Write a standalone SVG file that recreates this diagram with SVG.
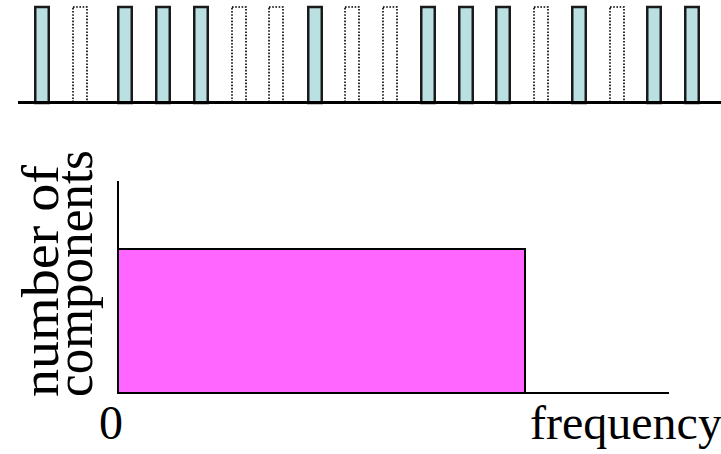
<svg xmlns="http://www.w3.org/2000/svg" width="721" height="454" viewBox="0 0 721 454">
<style>
.s{fill:#BBE0E2;stroke:#1a1a1a;stroke-width:2.5}
.d{fill:none;stroke:#000;stroke-width:1.6;stroke-dasharray:1.6 1.6}
.ax{stroke:#000;fill:none}
.t{font-family:"Liberation Serif","Times New Roman",serif;font-size:48px;fill:#000}
.r{font-size:52px}
</style>
<rect width="721" height="454" fill="#fff"/>
<g id="pulses">
<rect class="s" x="35.25" y="7" width="13.5" height="96"/>
<rect class="d" x="73" y="7" width="14" height="96"/>
<rect class="s" x="118.25" y="7" width="13.5" height="96"/>
<rect class="s" x="156.25" y="7" width="13.5" height="96"/>
<rect class="s" x="194.25" y="7" width="13.5" height="96"/>
<rect class="d" x="232" y="7" width="14" height="96"/>
<rect class="d" x="269" y="7" width="14" height="96"/>
<rect class="s" x="308.25" y="7" width="13.5" height="96"/>
<rect class="d" x="345" y="7" width="14" height="96"/>
<rect class="d" x="383" y="7" width="14" height="96"/>
<rect class="s" x="421.25" y="7" width="13.5" height="96"/>
<rect class="s" x="459.25" y="7" width="13.5" height="96"/>
<rect class="s" x="496.25" y="7" width="13.5" height="96"/>
<rect class="d" x="534" y="7" width="14" height="96"/>
<rect class="s" x="572.25" y="7" width="13.5" height="96"/>
<rect class="d" x="610" y="7" width="14" height="96"/>
<rect class="s" x="647.25" y="7" width="13.5" height="96"/>
<rect class="s" x="685.25" y="7" width="13.5" height="96"/>
</g>
<g id="connectors">
<line class="ax" x1="18" y1="102.5" x2="721" y2="102.5" stroke-width="3"/>
<line class="ax" x1="118" y1="181" x2="118" y2="393" stroke-width="2"/>
<line class="ax" x1="118" y1="393" x2="669" y2="393" stroke-width="2"/>
</g>
<g id="spectrum">
<rect x="118" y="249" width="407" height="144" fill="#FF66FF" stroke="#000" stroke-width="2"/>
</g>
<g id="labels">
<text class="t" x="99" y="439">0</text>
<text class="t" x="530" y="439">frequency</text>
<text class="t r" transform="translate(58,397) rotate(-90)" textLength="232" lengthAdjust="spacingAndGlyphs">number of</text>
<text class="t r" transform="translate(92,397) rotate(-90)" textLength="247" lengthAdjust="spacingAndGlyphs">components</text>
</g>
</svg>
